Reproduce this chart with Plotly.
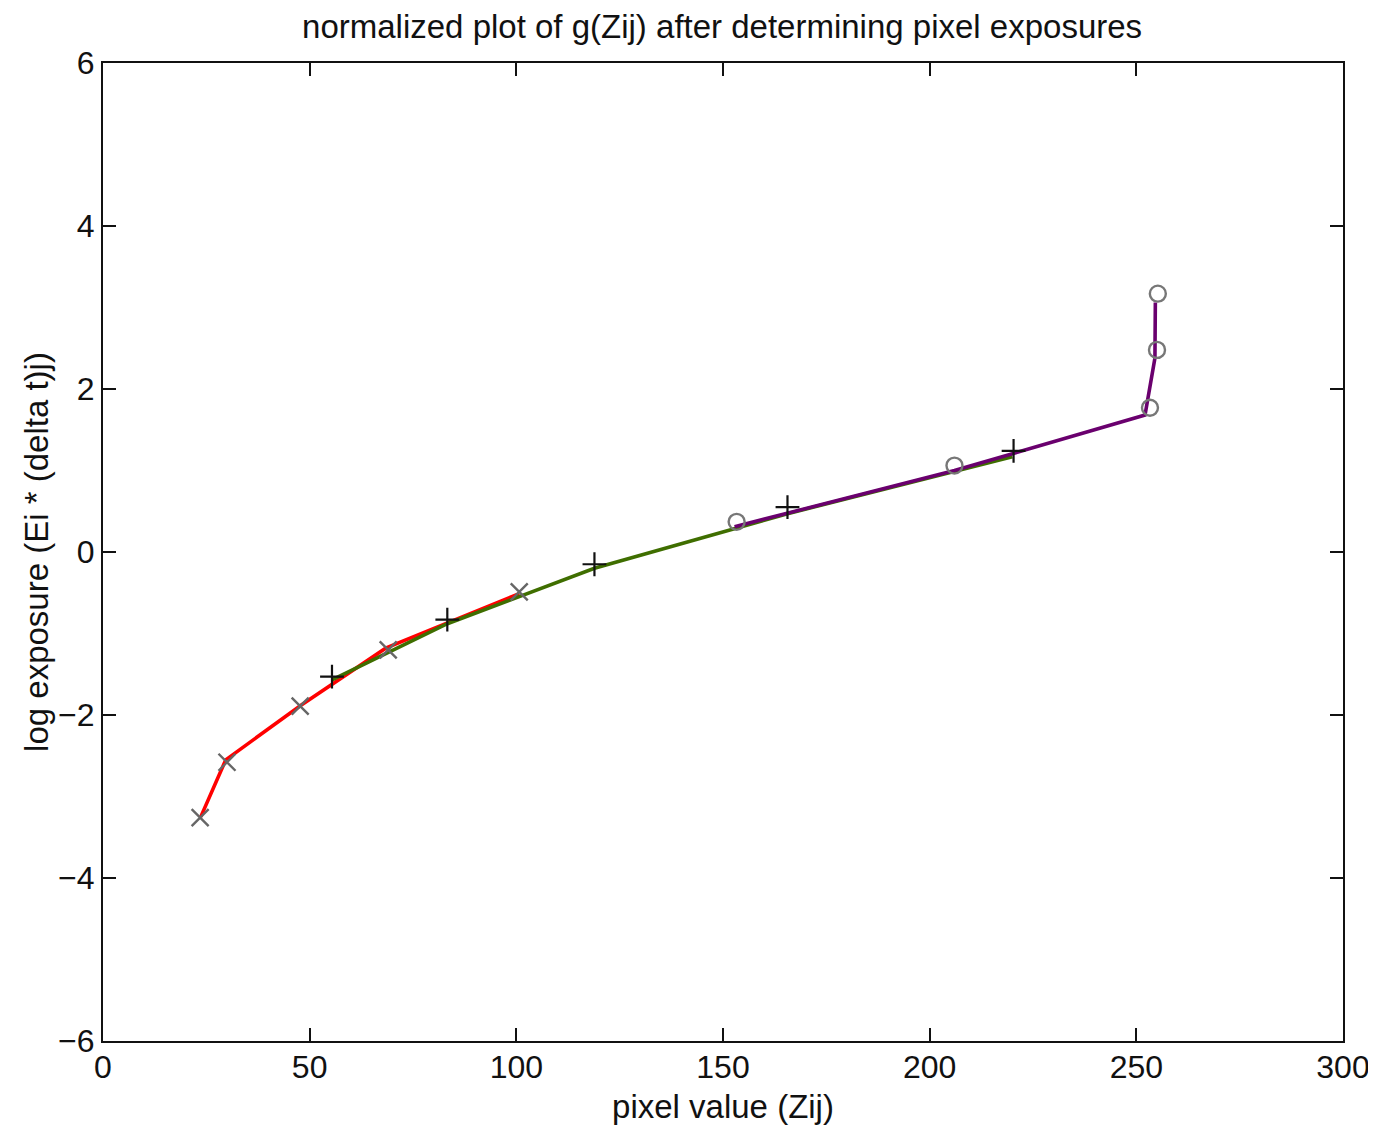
import plotly.graph_objects as go

# Red curve (x markers)
red_line_x = [23.65, 29.7, 47.9, 68.4, 100.7]
red_line_y = [-3.25, -2.55, -1.88, -1.18, -0.51]
red_mark_x = [23.5, 30.0, 47.7, 69.0, 100.7]
red_mark_y = [-3.26, -2.58, -1.89, -1.20, -0.49]

# Green curve (+ markers)
green_line_x = [55.4, 83.3, 118.9, 165.6, 220.0]
green_line_y = [-1.57, -0.88, -0.20, 0.47, 1.17]
green_mark_x = [55.4, 83.3, 118.9, 165.6, 220.3]
green_mark_y = [-1.53, -0.83, -0.15, 0.55, 1.24]

# Purple curve (o markers)
purple_line_x = [152.8, 206.0, 252.1, 254.5, 254.6]
purple_line_y = [0.31, 1.00, 1.68, 2.38, 3.06]
purple_mark_x = [153.3, 206.0, 253.3, 255.0, 255.2]
purple_mark_y = [0.37, 1.06, 1.77, 2.48, 3.17]

x_ticks = [0, 50, 100, 150, 200, 250, 300]
y_ticks = [-6, -4, -2, 0, 2, 4, 6]
y_tick_text = ["\u22126", "\u22124", "\u22122", "0", "2", "4", "6"]

FONT = "Liberation Sans, Arial, sans-serif"

fig = go.Figure()
fig.add_trace(go.Scatter(x=red_line_x, y=red_line_y, mode="lines",
                         line=dict(color="#ff0000", width=3.6)))
fig.add_trace(go.Scatter(x=green_line_x, y=green_line_y, mode="lines",
                         line=dict(color="#3f6e00", width=3.6)))
fig.add_trace(go.Scatter(x=purple_line_x, y=purple_line_y, mode="lines",
                         line=dict(color="#6a006e", width=3.6)))
fig.add_trace(go.Scatter(x=red_mark_x, y=red_mark_y, mode="markers",
                         marker=dict(symbol="x-thin", size=17,
                                     line=dict(color="#666666", width=2.4))))
fig.add_trace(go.Scatter(x=green_mark_x, y=green_mark_y, mode="markers",
                         marker=dict(symbol="cross-thin", size=17,
                                     line=dict(color="#111111", width=2.2))))
fig.add_trace(go.Scatter(x=purple_mark_x, y=purple_mark_y, mode="markers",
                         marker=dict(symbol="circle-open", size=16, color="#777777",
                                     line=dict(color="#777777", width=2.4))))

axis_common = dict(showgrid=False, zeroline=False, showline=True, linecolor="#111",
                   linewidth=2, mirror="ticks", ticks="inside", ticklen=13,
                   tickwidth=1.5, tickcolor="#111", automargin=False,
                   ticklabeloverflow="allow",
                   tickfont=dict(family=FONT, size=32, color="#111"))

fig.update_layout(
    width=1368, height=1118,
    margin=dict(l=95, r=33, t=55, b=85),
    paper_bgcolor="white", plot_bgcolor="white",
    showlegend=False,
    title=dict(text="normalized plot of g(Zij) after determining pixel exposures",
               x=0.522, xanchor="center", y=0.9942, yanchor="top",
               font=dict(family=FONT, size=33, color="#111")),
    xaxis=dict(range=[0, 300], tickvals=x_ticks, ticklabelstandoff=-3,
               title=dict(text="pixel value (Zij)", standoff=10,
                          font=dict(family=FONT, size=33, color="#111")),
               **axis_common),
    yaxis=dict(range=[-6, 6], tickvals=y_ticks, ticktext=y_tick_text,
               title=dict(text="log exposure (Ei * (delta t)j)", standoff=0,
                          font=dict(family=FONT, size=33, color="#111")),
               **axis_common),
)

fig.write_html("out.html")
